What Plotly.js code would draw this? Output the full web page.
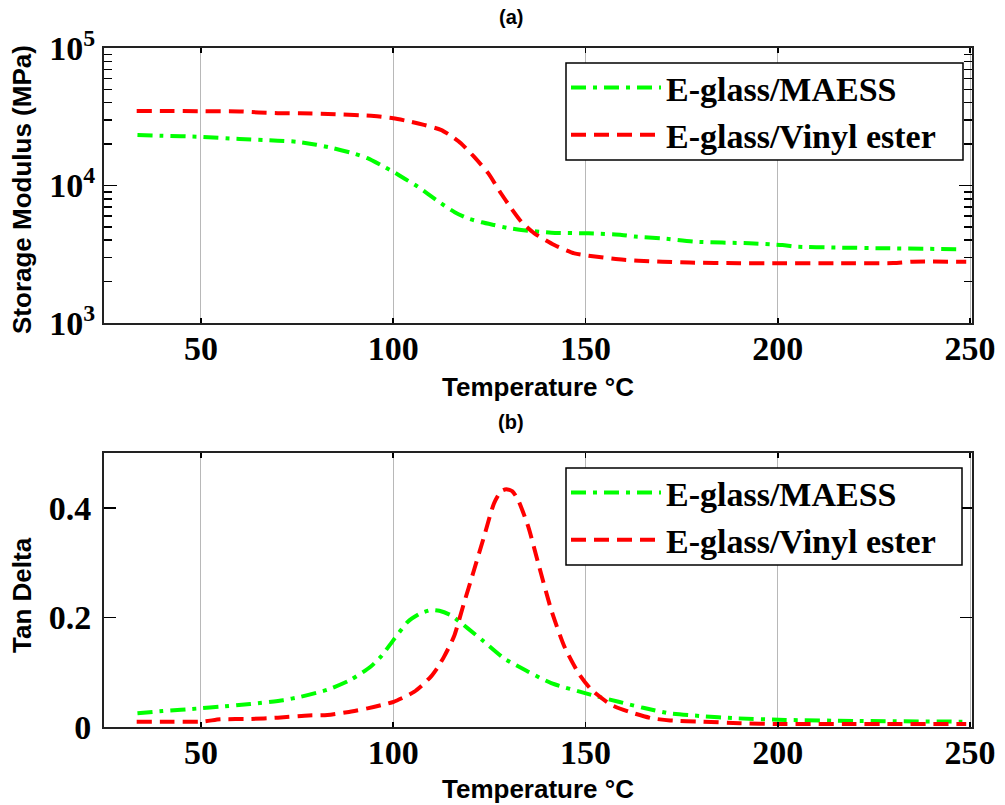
<!DOCTYPE html>
<html>
<head>
<meta charset="utf-8">
<script src="https://cdn.plot.ly/plotly-3.0.1.min.js"></script>
<style>html,body{margin:0;padding:0;background:#fff;}#chart{width:1005px;height:805px;}</style>
</head>
<body>
<div id="chart"></div>
<script>
// ---- Data ----
const seriesNames = ["E-glass/MAESS", "E-glass/Vinyl ester"];

// (a) Storage modulus, MPa
const tempModMAESS = [33.5, 40, 49.7, 60, 70, 75, 80, 84.5, 90, 93.3, 97, 100, 103, 106.4, 109, 112.4, 116, 119.4, 123, 126.2, 130, 133.3, 141.1, 150.8, 159.4, 162.8, 169.8, 178.5, 192.6, 201.2, 204.6, 215, 229, 248.2];
const modMAESS = [23300, 23000, 22600, 21800, 21200, 20800, 19800, 18650, 17000, 15800, 14000, 12600, 11200, 9800, 8700, 7430, 6400, 5770, 5400, 5160, 4900, 4750, 4540, 4490, 4370, 4250, 4130, 3900, 3800, 3690, 3590, 3540, 3490, 3440];

const tempModVE = [33.3, 40, 50, 60, 65, 70, 75.8, 85, 95, 100, 104.6, 108, 112.4, 115, 117.6, 121, 124.7, 128, 130.7, 133.3, 136.7, 141.9, 147.1, 150.8, 158.6, 163.8, 170, 177, 190, 200, 215, 230, 235, 249];
const modVE = [34800, 34800, 34700, 34600, 34000, 33600, 33500, 33000, 32000, 30800, 29100, 27600, 25400, 23000, 20300, 16200, 12300, 8780, 6820, 5460, 4490, 3690, 3210, 3085, 2905, 2840, 2790, 2750, 2720, 2720, 2720, 2730, 2790, 2790];

// (b) Tan delta
const tempTanMAESS = [33.5, 40, 49.7, 55, 62.8, 71.4, 75.8, 82.9, 88.9, 94.1, 97, 100.1, 103.8, 107, 109.8, 112, 115, 119.4, 123.6, 128.9, 135.1, 141.1, 150.8, 158.6, 165, 171.7, 180, 189, 202, 220, 248];
const tanMAESS = [0.025, 0.029, 0.034, 0.037, 0.042, 0.049, 0.055, 0.068, 0.086, 0.11, 0.13, 0.159, 0.192, 0.207, 0.2135, 0.212, 0.204, 0.18, 0.156, 0.125, 0.101, 0.08, 0.06, 0.046, 0.035, 0.025, 0.02, 0.016, 0.013, 0.011, 0.0097];

const tempTanVE = [33.3, 40, 50.5, 55, 62.8, 70, 78, 82.9, 88, 93.3, 97, 100.1, 103, 105.4, 107.5, 109.8, 111.5, 113.2, 115.8, 118.4, 121, 123.6, 126.2, 128, 129.4, 131, 132.5, 135.1, 137.7, 141.1, 144.5, 148.2, 151.6, 156.8, 161.2, 167.2, 172, 180.3, 190, 200, 220, 249];
const tanVE = [0.0097, 0.0097, 0.01, 0.014, 0.0146, 0.017, 0.021, 0.022, 0.027, 0.034, 0.04, 0.046, 0.055, 0.064, 0.076, 0.092, 0.108, 0.128, 0.165, 0.226, 0.286, 0.347, 0.408, 0.43, 0.434, 0.43, 0.414, 0.366, 0.299, 0.2135, 0.147, 0.098, 0.0675, 0.040, 0.028, 0.016, 0.012, 0.0097, 0.007, 0.0055, 0.0055, 0.0055];

const xTickVals = [50, 100, 150, 200, 250];
const xTickText = ["50", "100", "150", "200", "250"];
const yTopTickVals = [1e3, 1e4, 1e5];
const yTopTickText = ["10<sup>3</sup>", "10<sup>4</sup>", "10<sup>5</sup>"];
const yBotTickVals = [0, 0.2, 0.4];
const yBotTickText = ["0", "0.2", "0.4"];

const titles = ["(a)", "(b)"];
const yTitles = ["Storage Modulus (MPa)", "Tan Delta"];
const xTitle = "Temperature °C";

// ---- Styling ----
const W = 1005, H = 805;
const px = v => v / W;
const py = v => 1 - v / H;
const GREEN = "#00ff00", RED = "#ff0000";
const greenDash = "15px,7px,4px,7px";
const redDash = "15px,8px";
const serif = "Liberation Serif, Times New Roman, serif";
const sans = "Liberation Sans, Arial, sans-serif";
const tickFont = {family: serif, size: 34, color: "#000", weight: "bold"};

const traces = [
  {x: tempModMAESS, y: modMAESS, name: seriesNames[0], type: "scatter", mode: "lines", xaxis: "x", yaxis: "y",
   line: {color: GREEN, width: 4, dash: greenDash, shape: "spline", smoothing: 0.6}, legend: "legend"},
  {x: tempModVE, y: modVE, name: seriesNames[1], type: "scatter", mode: "lines", xaxis: "x", yaxis: "y",
   line: {color: RED, width: 4, dash: redDash, shape: "spline", smoothing: 0.6}, legend: "legend"},
  {x: tempTanMAESS, y: tanMAESS, name: seriesNames[0], type: "scatter", mode: "lines", xaxis: "x2", yaxis: "y2",
   line: {color: GREEN, width: 4, dash: greenDash, shape: "spline", smoothing: 0.6}, legend: "legend2"},
  {x: tempTanVE, y: tanVE, name: seriesNames[1], type: "scatter", mode: "lines", xaxis: "x2", yaxis: "y2",
   line: {color: RED, width: 4, dash: redDash, shape: "spline", smoothing: 0.6}, legend: "legend2"}
];

const xDomain = [px(104), px(972)];
const xCommon = {
  range: [24.8, 250.5], domain: xDomain, tickvals: xTickVals, ticktext: xTickText,
  ticks: "inside", ticklen: 5, tickwidth: 1.5, tickcolor: "#000", mirror: "ticks",
  showline: true, linecolor: "#222", linewidth: 2,
  showgrid: true, gridcolor: "#b8b8b8", gridwidth: 1, zeroline: false,
  tickfont: tickFont, ticklabelstandoff: -6, fixedrange: true
};

const legendCommon = {
  bgcolor: "rgba(0,0,0,0)", borderwidth: 0,
  font: {family: serif, size: 34, color: "#000", weight: "bold"},
  xanchor: "left", yanchor: "top", itemwidth: 90, tracegroupgap: 0
};

const annFont = {family: sans, size: 26, color: "#000", weight: "bold"};
const ann = (text, x, y, extra) => Object.assign({text: text, x: px(x), y: py(y), xref: "paper", yref: "paper",
  showarrow: false, xanchor: "center", yanchor: "middle", font: annFont}, extra || {});
const box = (x0, y0, x1, y1) => ({type: "rect", xref: "paper", yref: "paper", x0: px(x0), x1: px(x1),
  y0: py(y1), y1: py(y0), fillcolor: "#fff", line: {color: "#000", width: 1.5}, layer: "above"});

const layout = {
  width: W, height: H,
  margin: {l: 0, r: 0, t: 0, b: 0},
  paper_bgcolor: "#fff", plot_bgcolor: "#fff",
  showlegend: true,
  xaxis: Object.assign({}, xCommon, {anchor: "y"}),
  xaxis2: Object.assign({}, xCommon, {anchor: "y2"}),
  yaxis: {
    type: "log", range: [3, 5], domain: [py(323), py(48)], anchor: "x",
    tickvals: yTopTickVals, ticktext: yTopTickText,
    ticks: "inside", ticklen: 13, tickwidth: 1.5, tickcolor: "#000", mirror: "ticks",
    minor: {ticks: "inside", ticklen: 8, tickwidth: 1.5, tickcolor: "#000", dtick: "D1", showgrid: false},
    showline: true, linecolor: "#222", linewidth: 2, showgrid: false, zeroline: false,
    tickfont: tickFont, ticklabelstandoff: 0, fixedrange: true
  },
  yaxis2: {
    range: [0, 0.5], domain: [py(727), py(453)], anchor: "x2",
    tickvals: yBotTickVals, ticktext: yBotTickText,
    ticks: "inside", ticklen: 12, tickwidth: 1.5, tickcolor: "#000", mirror: "ticks",
    showline: true, linecolor: "#222", linewidth: 2, showgrid: false, zeroline: false,
    tickfont: tickFont, ticklabelstandoff: 4, fixedrange: true
  },
  legend: Object.assign({}, legendCommon, {x: px(566), y: py(59)}),
  legend2: Object.assign({}, legendCommon, {x: px(566), y: py(464)}),
  shapes: [box(566, 63, 963, 160), box(566, 468, 962, 565)],
  annotations: [
    ann(titles[0], 511, 17, {font: {family: sans, size: 20, color: "#000", weight: "bold"}}),
    ann(titles[1], 511, 422, {font: {family: sans, size: 20, color: "#000", weight: "bold"}}),
    ann(yTitles[0], 22, 190, {textangle: -90}),
    ann(yTitles[1], 22, 595, {textangle: -90}),
    ann(xTitle, 538, 387),
    ann(xTitle, 538, 789)
  ]
};

Plotly.newPlot("chart", traces, layout, {staticPlot: true, displayModeBar: false});
</script>
</body>
</html>
